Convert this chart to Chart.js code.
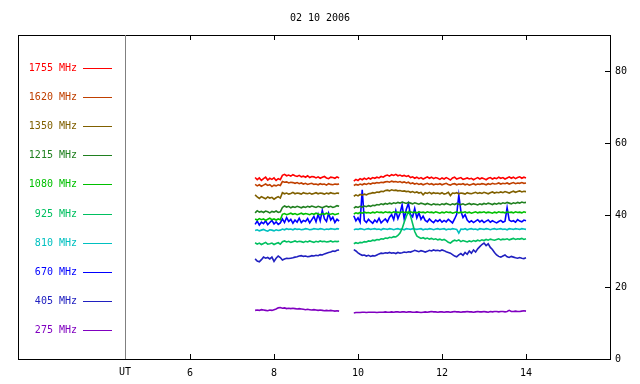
<!DOCTYPE html>
<html>
<head>
<meta charset="utf-8">
<script src="https://cdn.jsdelivr.net/npm/chart.js@4.4.1/dist/chart.umd.min.js"></script>
<style>
  html, body { margin: 0; padding: 0; background: #fff; }
  #wrap { width: 640px; height: 384px; }
</style>
</head>
<body>
<div id="wrap"><canvas id="c" width="640" height="384"></canvas></div>
<script>
// 02 10 2006 - radio flux, 10 frequencies
const title = '02 10 2006';
const xTicks = [6, 8, 10, 12, 14];
const yTicks = [0, 20, 40, 60, 80];

// two observing runs, samples every 0.05 h
const seg1Start = 7.55;
const seg2Start = 9.90;
const stepH = 0.05;

const freqLabels = ['1755 MHz', '1620 MHz', '1350 MHz', '1215 MHz', '1080 MHz',
                    '925 MHz', '810 MHz', '670 MHz', '405 MHz', '275 MHz'];
const freqColors = ['#ff0000', '#c04000', '#806000', '#208020', '#00c000',
                    '#00c060', '#00c0c0', '#0000ff', '#2020c0', '#8000c0'];

const f1755a = [50.4,49.8,50.3,49.6,50.1,50.5,49.7,50.2,49.9,50.3,
  49.6,50.1,49.8,51.0,51.3,50.9,51.1,50.8,51.2,50.9,
  50.7,51.0,50.6,50.8,50.5,50.9,50.4,50.7,50.6,50.3,
  50.6,50.2,50.5,50.7,50.3,50.1,50.5,50.4,50.2,50.6,50.3];
const f1755b = [49.4,49.9,49.6,50.1,49.8,50.2,49.9,50.3,50.0,50.4,
  50.2,50.5,50.3,50.7,50.5,50.9,51.1,50.8,51.2,51.0,
  51.3,50.9,51.1,50.8,51.0,50.7,50.9,50.4,50.6,50.2,
  50.5,50.1,50.4,50.0,50.3,50.6,50.2,50.5,50.1,50.4,
  50.2,49.9,50.3,50.0,50.4,50.1,49.7,50.3,50.5,50.0,
  50.2,50.4,49.9,50.1,50.3,50.0,50.2,49.8,50.1,50.4,
  50.0,50.3,50.1,49.8,50.2,50.4,50.0,50.3,50.1,50.5,
  50.2,50.4,50.0,50.3,50.6,50.2,50.5,50.1,50.4,50.6,
  50.2,50.5,50.3];

const f1620a = [48.5,48.1,48.4,48.0,48.3,48.6,48.2,48.4,47.9,48.3,
  48.1,48.4,48.2,49.3,49.1,49.2,48.9,49.1,49.0,48.8,
  49.0,48.7,48.9,48.6,48.8,48.5,48.7,48.8,48.5,48.6,
  48.4,48.7,48.5,48.6,48.3,48.7,48.5,48.4,48.6,48.5,48.6];
const f1620b = [48.2,48.5,48.3,48.6,48.4,48.7,48.5,48.8,48.6,48.9,
  48.8,49.0,48.9,49.1,49.0,49.2,49.3,49.1,49.4,49.2,
  49.3,49.1,49.3,49.0,49.2,48.9,49.1,48.7,48.9,48.6,
  48.8,48.5,48.7,48.4,48.6,48.8,48.5,48.7,48.4,48.6,
  48.5,48.7,48.4,48.6,48.8,48.5,48.3,48.6,48.7,48.4,
  48.6,48.5,48.7,48.4,48.6,48.3,48.5,48.7,48.4,48.6,
  48.5,48.7,48.6,48.4,48.7,48.5,48.8,48.6,48.7,48.9,
  48.6,48.8,48.7,48.9,48.6,48.8,49.0,48.7,48.9,48.8,
  49.0,48.8,48.9];

const f1350a = [45.6,45.0,44.6,45.1,44.8,44.5,45.0,44.7,44.9,44.4,
  44.8,45.1,44.7,46.2,45.9,46.1,45.8,46.0,46.3,45.9,
  46.1,46.0,45.8,46.2,46.0,45.9,46.1,45.8,46.0,46.2,
  45.9,46.1,46.0,45.8,46.1,45.9,46.2,46.0,45.9,46.1,46.0];
const f1350b = [45.2,45.6,45.3,45.7,45.5,45.8,45.6,45.9,46.0,46.2,
  46.1,46.4,46.3,46.6,46.5,46.8,46.9,46.7,47.0,46.8,
  46.9,46.7,46.8,46.6,46.7,46.5,46.6,46.3,46.5,46.2,
  46.4,46.1,46.3,45.6,46.2,46.0,46.3,45.9,46.2,46.0,
  46.1,45.9,46.2,45.8,46.0,46.3,45.4,46.1,46.0,46.2,
  45.9,46.1,46.0,45.8,46.2,46.0,45.9,46.1,46.3,46.0,
  46.2,46.0,46.3,46.1,45.9,46.2,46.4,46.1,46.3,46.2,
  46.4,46.2,46.5,46.3,46.1,46.4,46.6,46.3,46.5,46.7,
  46.4,46.6,46.5];

const f1215a = [40.6,41.2,40.8,41.0,40.7,41.1,40.9,40.6,41.0,40.8,
  41.1,40.7,40.9,42.1,42.5,42.2,42.4,42.0,42.3,42.1,
  42.4,42.2,42.0,42.3,42.1,42.4,42.2,42.5,42.3,42.1,
  42.4,42.2,42.0,42.3,42.5,42.2,42.4,42.1,42.3,42.6,42.4];
const f1215b = [41.9,42.3,42.1,42.4,42.2,42.5,42.3,42.6,42.4,42.7,
  42.6,42.9,42.8,43.1,42.9,43.2,43.0,43.3,43.1,43.4,
  43.2,43.5,43.3,43.6,43.4,43.2,43.5,43.3,43.1,43.4,
  43.2,43.0,43.3,43.1,42.9,43.2,43.0,42.8,43.1,42.9,
  43.0,42.8,43.1,42.9,43.2,43.0,42.8,43.1,42.9,43.2,
  43.0,42.9,43.1,42.8,43.0,43.2,42.9,43.1,43.0,42.8,
  43.1,42.9,43.2,43.0,43.3,43.1,42.9,43.2,43.0,43.3,
  43.1,43.4,43.2,43.5,43.3,43.1,43.4,43.2,43.5,43.3,
  43.6,43.4,43.5];

const f1080a = [38.9,38.6,39.0,38.7,38.9,38.5,38.8,39.1,38.7,38.9,
  38.6,38.9,38.7,40.2,40.4,40.1,40.3,40.5,40.2,40.4,
  40.1,40.3,40.5,40.2,40.4,40.3,40.1,40.4,40.2,40.5,
  40.3,40.1,40.4,40.2,40.5,40.3,40.2,40.4,40.1,40.3,40.4];
const f1080b = [40.3,40.6,40.4,40.7,40.5,40.8,40.6,40.7,40.5,40.8,
  40.6,40.9,40.7,40.8,40.6,40.9,40.7,40.8,40.6,40.9,
  40.7,40.8,40.6,40.9,40.7,40.8,40.6,40.9,40.7,40.8,
  40.6,40.9,40.7,40.8,40.6,40.9,40.7,40.8,40.6,40.9,
  40.7,40.5,40.8,40.6,40.9,40.7,40.8,40.5,40.7,40.9,
  40.6,40.8,40.7,40.9,40.6,40.8,40.5,40.7,40.9,40.6,
  40.8,40.7,40.9,40.6,40.8,40.7,40.5,40.8,40.6,40.9,
  40.7,40.8,40.6,40.9,40.7,40.8,40.6,40.9,40.7,40.8,
  40.6,40.9,40.7];

const f925a = [32.3,31.9,32.2,31.8,32.1,32.4,31.9,32.0,32.2,31.8,
  32.1,32.3,31.9,32.6,32.8,32.5,32.7,32.4,32.6,32.8,
  32.5,32.7,32.6,32.4,32.7,32.5,32.8,32.6,32.4,32.7,
  32.5,32.8,32.6,32.7,32.5,32.6,32.8,32.5,32.7,32.6,32.7];
const f925b = [32.0,32.3,32.1,32.4,32.3,32.6,32.5,32.8,32.7,33.0,
  32.9,33.2,33.1,33.4,33.3,33.6,33.5,33.8,33.7,34.0,
  33.9,34.3,35.0,36.2,38.0,39.6,40.9,39.8,37.6,35.4,
  34.2,33.8,33.5,33.7,33.4,33.6,33.3,33.5,33.2,33.4,
  33.1,33.3,33.0,33.2,32.9,32.4,32.2,32.7,33.0,32.8,
  33.1,32.6,32.9,32.7,32.5,32.8,32.6,32.9,32.7,33.0,
  32.8,33.1,32.9,33.2,33.0,33.3,33.1,33.0,33.2,33.4,
  33.1,33.3,33.2,33.4,33.1,33.3,33.5,33.2,33.4,33.3,
  33.5,33.2,33.4];

const f810a = [35.7,35.9,35.6,35.8,36.0,35.7,35.5,35.9,35.8,35.6,
  35.9,35.7,35.8,36.1,35.9,36.2,36.0,36.1,35.9,36.2,
  36.0,36.1,35.9,36.0,36.2,36.1,35.9,36.0,36.2,36.1,
  36.0,36.2,36.1,35.9,36.1,36.0,36.2,36.1,36.0,36.2,36.1];
const f810b = [35.9,36.1,36.0,36.2,36.1,35.9,36.1,36.2,36.0,36.1,
  36.2,36.0,36.1,35.9,36.2,36.1,36.0,36.2,36.1,35.9,
  36.1,36.2,36.0,36.1,35.9,36.2,36.1,36.0,36.2,36.1,
  36.0,36.1,36.2,35.9,36.1,36.0,36.2,36.1,35.9,36.1,
  36.2,36.0,36.1,36.2,35.9,36.1,36.0,36.2,36.1,36.0,
  35.0,36.1,36.0,36.2,35.9,36.1,36.2,36.0,36.1,35.9,
  36.2,36.1,36.0,36.2,36.1,35.9,36.1,36.2,36.0,36.1,
  36.2,36.0,36.1,35.9,36.2,36.1,36.0,36.2,36.1,36.0,
  36.2,36.1,36.0];

const f670a = [37.4,38.3,37.2,38.0,37.6,38.4,37.3,37.9,38.5,37.5,
  38.1,37.4,37.8,38.9,37.9,39.3,38.2,38.8,37.7,38.6,
  38.0,39.1,37.9,38.5,38.2,39.0,37.8,38.7,39.6,38.1,
  40.2,38.4,41.3,39.0,38.2,40.5,38.6,39.4,37.9,38.8,38.3];
const f670b = [39.8,38.4,39.2,38.0,47.0,38.5,37.9,38.8,38.2,37.7,
  38.6,38.0,39.1,37.8,38.4,38.9,38.1,39.4,40.1,38.7,
  41.2,39.0,40.5,42.8,38.9,41.6,43.2,40.1,39.5,41.8,
  39.2,40.6,38.8,39.7,38.5,38.1,38.9,38.3,37.9,38.6,
  38.2,38.7,38.0,38.5,38.1,38.8,38.3,37.8,38.9,40.2,
  45.5,41.0,39.3,40.1,38.6,38.0,38.4,37.9,38.3,38.7,
  38.1,38.5,37.9,38.3,38.6,38.0,38.4,38.1,37.8,38.2,
  38.5,38.0,38.3,42.0,38.6,38.2,38.4,38.0,38.7,38.3,
  38.1,38.6,38.4];

const f405a = [27.8,27.2,27.0,27.6,28.3,28.0,28.2,27.8,28.3,27.1,
  28.0,28.6,28.2,27.5,27.8,28.0,27.9,28.0,28.1,28.3,
  28.4,28.6,28.7,28.5,28.6,28.4,28.5,28.7,28.6,28.8,
  28.7,29.0,28.9,29.2,29.4,29.6,29.7,30.0,29.9,30.2,30.3];
const f405b = [30.4,30.0,29.5,29.1,28.8,28.9,28.6,28.8,28.5,28.7,
  28.6,28.9,29.2,29.4,29.3,29.5,29.4,29.6,29.4,29.5,
  29.3,29.6,29.4,29.5,29.7,29.6,29.8,29.7,29.9,30.2,
  30.0,29.8,30.1,29.9,29.7,29.9,30.2,30.0,30.3,30.1,
  30.2,30.0,30.3,30.1,29.8,29.6,29.4,29.0,28.6,28.4,
  28.9,29.3,28.8,29.6,29.1,30.0,29.4,30.3,29.7,30.6,
  31.2,31.8,32.2,31.5,32.0,31.0,30.4,29.6,28.9,28.5,
  28.3,28.6,28.9,28.4,28.2,28.5,28.3,28.1,28.0,28.2,
  28.0,27.9,28.1];

const f275a = [13.5,13.6,13.5,13.7,13.6,13.5,13.4,13.6,13.5,13.7,
  13.9,14.2,14.3,14.1,14.2,14.0,14.1,14.0,14.1,14.0,
  13.9,14.0,13.9,13.8,13.7,13.8,13.7,13.6,13.7,13.6,
  13.5,13.6,13.5,13.4,13.5,13.4,13.5,13.4,13.3,13.4,13.3];
const f275b = [12.8,12.9,12.9,12.9,13.0,13.0,12.9,13.0,13.0,13.0,
  13.0,12.9,13.0,13.0,13.0,13.1,13.0,13.0,13.1,13.0,
  13.1,13.1,13.0,13.1,13.1,13.0,13.1,13.1,13.0,13.0,
  13.1,13.0,12.9,13.0,13.1,13.0,13.1,13.2,13.1,13.1,
  13.0,13.1,13.1,13.0,13.1,13.1,13.0,13.1,13.2,13.1,
  13.1,13.0,13.1,13.1,13.2,13.1,13.1,13.0,13.1,13.2,
  13.1,13.1,13.2,13.1,13.0,13.2,13.1,13.2,13.2,13.1,
  13.2,13.2,13.1,13.2,13.5,13.2,13.2,13.3,13.2,13.2,
  13.3,13.4,13.3];

const seriesA = [f1755a, f1620a, f1350a, f1215a, f1080a, f925a, f810a, f670a, f405a, f275a];
const seriesB = [f1755b, f1620b, f1350b, f1215b, f1080b, f925b, f810b, f670b, f405b, f275b];

const FONT = '"DejaVu Sans Mono", "Liberation Mono", monospace';

function toPoints(a, b) {
    const pts = [];
    a.forEach((v, i) => pts.push({ x: +(seg1Start + i * stepH).toFixed(2), y: v }));
    pts.push({ x: 9.7, y: null });  // data gap
    b.forEach((v, i) => pts.push({ x: +(seg2Start + i * stepH).toFixed(2), y: v }));
    return pts;
}

// frame, legend panel, inward ticks, title
const framePlugin = {
    id: 'frame',
    afterDraw(chart) {
        const ctx = chart.ctx;
        const xs = chart.scales.x, ys = chart.scales.y;
        const L = 18, sep = xs.left, R = xs.right, T = ys.top, B = ys.bottom;
        ctx.save();
        ctx.lineWidth = 1;
        ctx.strokeStyle = '#000';
        ctx.strokeRect(L + 0.5, T + 0.5, R - L, B - T);
        ctx.strokeStyle = '#808080';
        ctx.beginPath();
        ctx.moveTo(sep + 0.5, T); ctx.lineTo(sep + 0.5, B);
        ctx.stroke();
        ctx.strokeStyle = '#000';
        ctx.beginPath();
        xTicks.forEach(v => {
            const px = Math.round(xs.getPixelForValue(v)) + 0.5;
            ctx.moveTo(px, T); ctx.lineTo(px, T + 5);
            ctx.moveTo(px, B); ctx.lineTo(px, B - 5);
        });
        yTicks.forEach(v => {
            const py = Math.round(ys.getPixelForValue(v)) + 0.5;
            ctx.moveTo(R, py); ctx.lineTo(R - 5, py);
        });
        ctx.stroke();

        ctx.font = '10px ' + FONT;
        ctx.textBaseline = 'middle';
        ctx.fillStyle = '#000';
        ctx.textAlign = 'center';
        ctx.fillText(title, 320, 18);
        ctx.fillText('UT', sep, 372);

        // legend
        ctx.textAlign = 'right';
        freqLabels.forEach((lab, i) => {
            const y = Math.round(68 + i * 29.1);
            ctx.fillStyle = freqColors[i];
            ctx.fillText(lab, 77, y);
            ctx.strokeStyle = freqColors[i];
            ctx.beginPath();
            ctx.moveTo(83, y + 0.5); ctx.lineTo(112, y + 0.5);
            ctx.stroke();
        });
        ctx.restore();
    }
};

new Chart(document.getElementById('c').getContext('2d'), {
    type: 'line',
    data: {
        datasets: freqLabels.map((lab, i) => ({
            label: lab,
            data: toPoints(seriesA[i], seriesB[i]),
            borderColor: freqColors[i],
            borderWidth: 1.6,
            pointRadius: 0,
            tension: 0,
            spanGaps: false,
            fill: false
        }))
    },
    options: {
        responsive: false,
        animation: false,
        events: [],
        layout: { padding: { left: 125, top: 35, right: 0, bottom: 0 } },
        plugins: { legend: { display: false }, title: { display: false }, tooltip: { enabled: false } },
        scales: {
            x: {
                type: 'linear',
                min: 4.452, max: 16,
                afterBuildTicks: s => { s.ticks = xTicks.map(v => ({ value: v })); },
                afterFit: s => { s.height = 25; },
                grid: { display: false, drawTicks: false },
                border: { display: false },
                ticks: { color: '#000', font: { family: FONT, size: 10 }, padding: 8, maxRotation: 0 }
            },
            y: {
                position: 'right',
                min: 0, max: 90,
                afterBuildTicks: s => { s.ticks = yTicks.map(v => ({ value: v })); },
                afterFit: s => { s.width = 30; },
                grid: { display: false, drawTicks: false },
                border: { display: false },
                ticks: { color: '#000', font: { family: FONT, size: 10 }, padding: 5 }
            }
        }
    },
    plugins: [framePlugin]
});
</script>
</body>
</html>
